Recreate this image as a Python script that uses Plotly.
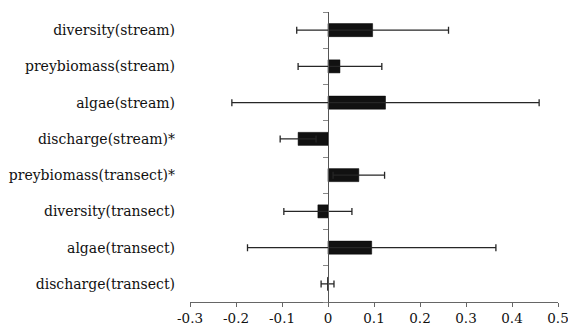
import plotly.graph_objects as go

categories = ["diversity(stream)", "preybiomass(stream)", "algae(stream)", "discharge(stream)*",
              "preybiomass(transect)*", "diversity(transect)", "algae(transect)", "discharge(transect)"]
values = [0.097, 0.026, 0.125, -0.065, 0.067, -0.022, 0.095, -0.001]
errors = [0.165, 0.091, 0.334, 0.039, 0.056, 0.074, 0.270, 0.014]
x_ticks = [-0.3, -0.2, -0.1, 0, 0.1, 0.2, 0.3, 0.4, 0.5]

n = len(categories)
ypos = [n - 1 - i for i in range(n)]
boundaries = [i - 0.5 for i in range(n + 1)]

FONT = "DejaVu Serif"

fig = go.Figure()
fig.add_trace(go.Bar(
    x=values, y=ypos, orientation="h",
    marker=dict(color="#111111", line=dict(color="#000000", width=0.5)),
    width=0.36,
    error_x=dict(type="data", array=errors, visible=True, color="#262626", thickness=1.3, width=3.5),
    showlegend=False,
))
fig.add_trace(go.Scatter(x=[None], y=[None], yaxis="y2", showlegend=False, hoverinfo="skip"))

xmin, xmax = -0.3, 0.5
fig.update_layout(
    width=568, height=331,
    margin=dict(l=190, r=10, t=12, b=29),
    paper_bgcolor="white", plot_bgcolor="white",
    font=dict(family=FONT, size=14, color="#111111"),
    xaxis=dict(range=[xmin, xmax], tickvals=x_ticks, ticktext=[f"{v:g}" for v in x_ticks],
               showgrid=False, zeroline=False, showline=True, linecolor="#666666", linewidth=1.2,
               ticks="outside", ticklen=4, tickcolor="#666666", tickwidth=1.2,
               tickfont=dict(size=13.5, family=FONT), fixedrange=True, automargin=False,
               ticklabeloverflow="allow"),
    yaxis=dict(range=[-0.5, n - 0.5], tickvals=ypos, ticktext=categories,
               showgrid=False, zeroline=False, showline=False, ticks="",
               ticklabelstandoff=14, tickfont=dict(size=14, family=FONT), automargin=False),
    yaxis2=dict(range=[-0.5, n - 0.5], overlaying="y", anchor="free",
                position=(0 - xmin) / (xmax - xmin), side="left",
                tickvals=boundaries, showticklabels=False, ticks="outside", ticklen=5,
                tickcolor="#888888", showline=True, linecolor="#555555", linewidth=1.2,
                showgrid=False, zeroline=False),
)
fig.write_html("out.html", post_script="document.body.style.margin='0';",
               config={"displayModeBar": False})
